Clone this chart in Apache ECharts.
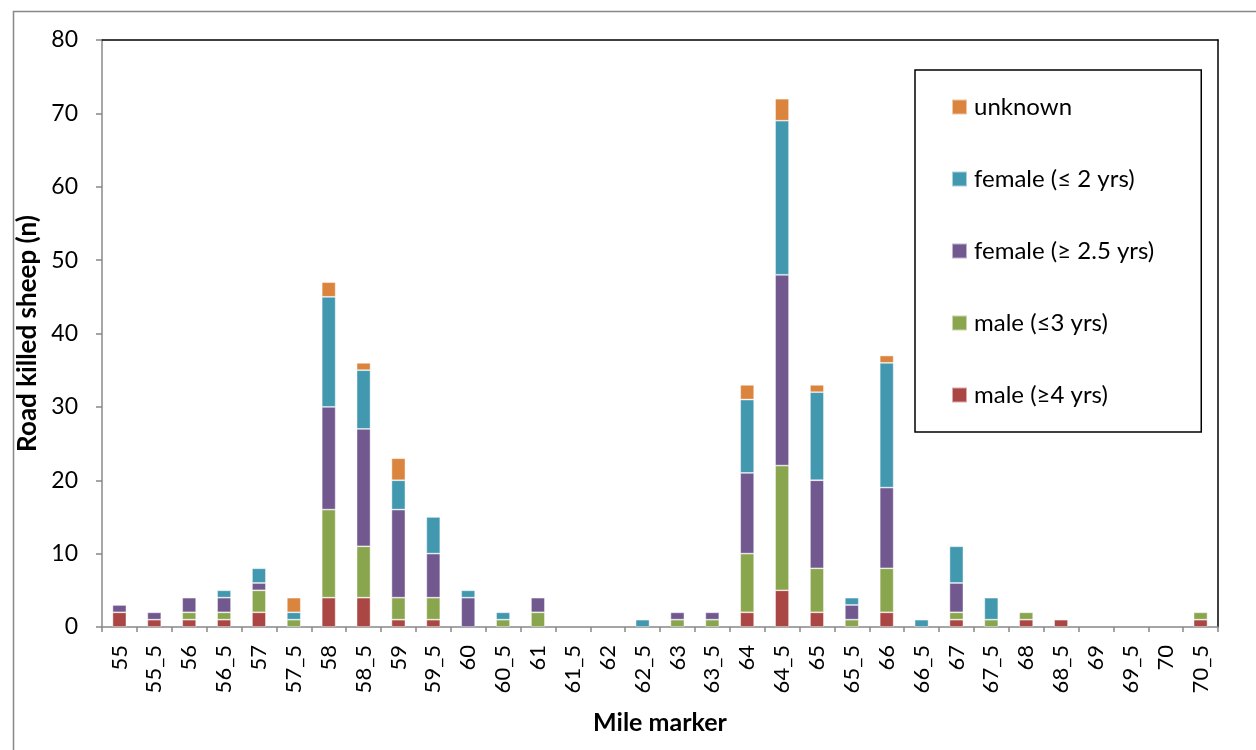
<!DOCTYPE html>
<html>
<head>
<meta charset="utf-8">
<script src="https://cdn.jsdelivr.net/npm/echarts@6/dist/echarts.min.js"></script>
<style>
html,body{margin:0;padding:0;background:#fff;}
#chart{width:1256px;height:750px;}
</style>
</head>
<body>
<div id="chart"></div>
<script>
var categories = ['55','55_5','56','56_5','57','57_5','58','58_5','59','59_5','60','60_5','61','61_5','62','62_5','63','63_5','64','64_5','65','65_5','66','66_5','67','67_5','68','68_5','69','69_5','70','70_5'];
var male4   = [2,1,1,1,2,0,4,4,1,1,0,0,0,0,0,0,0,0,2,5,2,0,2,0,1,0,1,1,0,0,0,1];
var male3   = [0,0,1,1,3,1,12,7,3,3,0,1,2,0,0,0,1,1,8,17,6,1,6,0,1,1,1,0,0,0,0,1];
var female25= [1,1,2,2,1,0,14,16,12,6,4,0,2,0,0,0,1,1,11,26,12,2,11,0,4,0,0,0,0,0,0,0];
var female2 = [0,0,0,1,2,1,15,8,4,5,1,1,0,0,0,1,0,0,10,21,12,1,17,1,5,3,0,0,0,0,0,0];
var unknown = [0,0,0,0,0,2,2,1,3,0,0,0,0,0,0,0,0,0,2,3,1,0,1,0,0,0,0,0,0,0,0,0];
var yTicks = [0,10,20,30,40,50,60,70,80];

var FONT = 'Lato, "Open Sans", sans-serif';
var chart = echarts.init(document.getElementById('chart'));
function s(name, data, color){
  return {name:name, type:'bar', stack:'t',
    data:data.map(function(v){return v === 0 ? '-' : v;}),
    barWidth:'40%',
    itemStyle:{color:color, borderColor:'rgba(255,255,255,0.55)', borderWidth:0.8}};
}
chart.setOption({
  animation:false,
  textStyle:{fontFamily:FONT},
  graphic:[{type:'rect', left:11, top:9, shape:{width:1300, height:800},
    style:{fill:'none', stroke:'#888', lineWidth:1.5}, silent:true}],
  grid:{left:102, right:38, top:40, bottom:123},
  legend:{
    orient:'vertical', left:915, top:70,
    data:['unknown','female (≤ 2 yrs)','female (≥ 2.5 yrs)','male (≤3 yrs)','male (≥4 yrs)'],
    icon:'rect', itemWidth:15, itemHeight:15, itemGap:48,
    padding:[25,47,25,36],
    borderColor:'#000', borderWidth:1.5,
    textStyle:{fontSize:24, color:'#000', fontFamily:FONT, padding:[0,0,0,2]}
  },
  xAxis:[{
    type:'category', data:categories,
    name:'Mile marker', nameLocation:'middle', nameGap:83,
    nameTextStyle:{fontSize:25, fontWeight:'bold', color:'#000', fontFamily:FONT},
    axisLine:{lineStyle:{color:'#888', width:1.5}},
    axisTick:{show:true, alignWithLabel:false, length:5, lineStyle:{color:'#888', width:1.5}},
    axisLabel:{rotate:90, fontSize:22, color:'#000', margin:18, interval:0, fontFamily:FONT}
  },{
    type:'category', data:categories, position:'top',
    axisLine:{onZero:false, lineStyle:{color:'#000', width:1.5}},
    axisTick:{show:false}, axisLabel:{show:false}
  }],
  yAxis:[{
    type:'value', min:0, max:80, interval:10,
    name:'Road killed sheep (n)', nameLocation:'middle', nameGap:56,
    nameTextStyle:{fontSize:26, fontWeight:'bold', color:'#000', fontFamily:FONT},
    axisLine:{show:true, lineStyle:{color:'#888', width:1.5}},
    axisTick:{show:true, length:6, lineStyle:{color:'#888', width:1.5}},
    axisLabel:{fontSize:23, color:'#000', margin:24, fontFamily:FONT,
      formatter:function(v){return yTicks.indexOf(v)>=0 ? String(v) : '';}},
    splitLine:{show:false}
  },{
    type:'value', min:0, max:80, interval:10, position:'right',
    axisLine:{show:true, onZero:false, lineStyle:{color:'#000', width:1.5}},
    axisTick:{show:false}, axisLabel:{show:false}, splitLine:{show:false}
  }],
  series:[
    s('male (≥4 yrs)', male4, '#AA4643'),
    s('male (≤3 yrs)', male3, '#89A54E'),
    s('female (≥ 2.5 yrs)', female25, '#71588F'),
    s('female (≤ 2 yrs)', female2, '#4198AF'),
    s('unknown', unknown, '#DB843D')
  ]
});
</script>
</body>
</html>
